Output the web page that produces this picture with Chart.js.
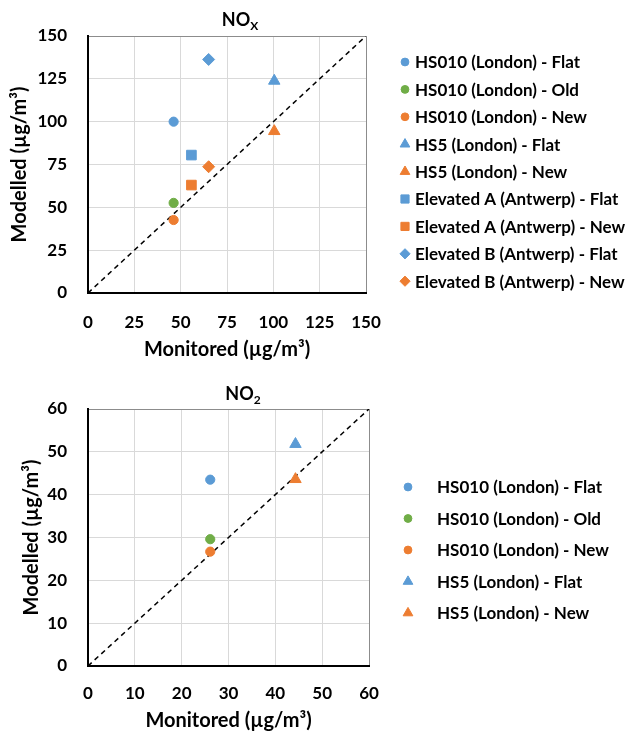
<!DOCTYPE html>
<html>
<head>
<meta charset="utf-8">
<script src="https://cdn.jsdelivr.net/npm/chart.js@4.4.1/dist/chart.umd.min.js"></script>
<style>
  html, body { margin: 0; padding: 0; background: #fff; }
  #wrap { position: relative; width: 630px; height: 733px; }
  .box { position: absolute; left: 0; width: 630px; }
</style>
</head>
<body>
<div id="wrap">
  <div class="box" style="top:0;height:365px"><canvas id="noxChart" width="630" height="365"></canvas></div>
  <div class="box" style="top:365px;height:368px"><canvas id="no2Chart" width="630" height="368"></canvas></div>
</div>
<script>
// NOx panel
const noxLabels = [
  'HS010 (London) - Flat',
  'HS010 (London) - Old',
  'HS010 (London) - New',
  'HS5 (London) - Flat',
  'HS5 (London) - New',
  'Elevated A (Antwerp) - Flat',
  'Elevated A (Antwerp) - New',
  'Elevated B (Antwerp) - Flat',
  'Elevated B (Antwerp) - New'
];
const noxMonitored = [46.2, 46.2, 46.2, 100.5, 100.5, 55.8, 55.8, 65.1, 65.1];
const noxModelled  = [100, 52.6, 42.6, 123.8, 94.4, 80.5, 63, 136.3, 73.7];
const noxRange = [0, 150];
const noxTicks = [0, 25, 50, 75, 100, 125, 150];

// NO2 panel
const no2Labels = [
  'HS010 (London) - Flat',
  'HS010 (London) - Old',
  'HS010 (London) - New',
  'HS5 (London) - Flat',
  'HS5 (London) - New'
];
const no2Monitored = [26.1, 26.1, 26.1, 44.3, 44.3];
const no2Modelled  = [43.5, 29.6, 26.7, 51.8, 43.6];
const no2Range = [0, 60];
const no2Ticks = [0, 10, 20, 30, 40, 50, 60];

// marker look per series
const blue = '#5B9BD5', orange = '#ED7D31', green = '#70AD47';
const seriesColors = [blue, green, orange, blue, orange, blue, orange, blue, orange];
const seriesShapes = ['circle', 'circle', 'circle', 'triangle', 'triangle', 'rect', 'rect', 'rectRot', 'rectRot'];
const shapeRadius = { circle: 4.6, triangle: 6.6, rect: 6.8, rectRot: 6 };

const FONT = 'Lato';

function buildDatasets(labels, xs, ys, range) {
  const sets = labels.map((lab, i) => ({
    type: 'scatter',
    label: lab,
    data: [{ x: xs[i], y: ys[i] }],
    pointStyle: seriesShapes[i],
    pointRadius: shapeRadius[seriesShapes[i]],
    pointHoverRadius: shapeRadius[seriesShapes[i]],
    backgroundColor: seriesColors[i],
    borderColor: seriesColors[i],
    borderWidth: 1
  }));
  // 1:1 line
  sets.push({
    type: 'line',
    label: '1:1',
    data: range.map(v => ({ x: v, y: v })),
    borderColor: '#000',
    borderWidth: 1.5,
    borderDash: [5, 4],
    pointRadius: 0,
    fill: false,
    hideInLegend: true
  });
  return sets;
}

// title with subscript + legend drawn at fixed spots
const panelDecor = {
  id: 'panelDecor',
  afterDraw(chart, args, opts) {
    const ctx = chart.ctx;
    ctx.save();
    // title
    ctx.fillStyle = '#000';
    ctx.textBaseline = 'middle';
    ctx.textAlign = 'left';
    ctx.font = 'bold 18px ' + FONT;
    const mainW = ctx.measureText(opts.title).width;
    ctx.font = 'bold 12px ' + FONT;
    const subW = ctx.measureText(opts.sub).width;
    const tx = opts.titleX - (mainW + subW) / 2;
    ctx.font = 'bold 18px ' + FONT;
    ctx.fillText(opts.title, tx, opts.titleY);
    ctx.font = 'bold 12px ' + FONT;
    ctx.fillText(opts.sub, tx + mainW, opts.titleY + 6);

    // legend
    ctx.font = 'bold 17px ' + FONT;
    let row = 0;
    chart.data.datasets.forEach(ds => {
      if (ds.hideInLegend) return;
      const y = opts.legendY + row * opts.legendStep;
      ctx.fillStyle = ds.backgroundColor;
      ctx.strokeStyle = ds.borderColor;
      ctx.lineWidth = 1;
      Chart.helpers.drawPoint(ctx, { pointStyle: ds.pointStyle, radius: ds.pointRadius * 0.85, rotation: 0, borderWidth: 1 }, opts.markerX, y);
      ctx.fillStyle = '#000';
      ctx.fillText(ds.label, opts.textX, y + 1);
      row++;
    });
    ctx.restore();
  }
};

function makeChart(id, datasets, range, ticks, step, cfg) {
  const tickFont = { family: FONT, size: 17, weight: 'bold' };
  const titleFont = { family: FONT, size: 20, weight: 'bold' };
  const gridColor = c => (c.tick && c.tick.value === range[1]) ? '#8C8C8C' : '#D9D9D9';
  return new Chart(document.getElementById(id).getContext('2d'), {
    data: { datasets: datasets },
    plugins: [panelDecor],
    options: {
      responsive: false,
      animation: false,
      layout: { padding: cfg.padding },
      scales: {
        x: {
          type: 'linear',
          min: range[0], max: range[1],
          afterFit: s => { s.height = cfg.xHeight; },
          afterBuildTicks: s => { s.ticks = ticks.map(v => ({ value: v })); },
          ticks: { stepSize: step, font: tickFont, color: '#000', padding: cfg.xTickPad },
          grid: { color: gridColor, lineWidth: 1, drawTicks: false },
          border: { color: '#000', width: 2 },
          title: { display: true, text: 'Monitored (µg/m³)', font: titleFont, color: '#000', padding: { top: 0, bottom: cfg.xTitlePad } }
        },
        y: {
          type: 'linear',
          min: range[0], max: range[1],
          afterFit: s => { s.width = cfg.yWidth; },
          afterBuildTicks: s => { s.ticks = ticks.map(v => ({ value: v })); },
          ticks: { stepSize: step, font: tickFont, color: '#000', padding: 21 },
          grid: { color: gridColor, lineWidth: 1, drawTicks: false },
          border: { color: '#000', width: 2 },
          title: { display: true, text: 'Modelled (µg/m³)', font: titleFont, color: '#000', padding: { top: cfg.yTitlePad, bottom: 0 } }
        }
      },
      plugins: {
        legend: { display: false },
        tooltip: { enabled: false },
        panelDecor: cfg.decor
      }
    }
  });
}

makeChart('noxChart', buildDatasets(noxLabels, noxMonitored, noxModelled, noxRange), noxRange, noxTicks, 25, {
  padding: { left: 0, top: 36, right: 264, bottom: 0 },
  xHeight: 72, yWidth: 88, xTickPad: 19, xTitlePad: 3, yTitlePad: 8,
  decor: { title: 'NO', sub: 'X', titleX: 240, titleY: 20, legendY: 62, legendStep: 27.4, markerX: 405, textX: 415 }
});

makeChart('no2Chart', buildDatasets(no2Labels, no2Monitored, no2Modelled, no2Range), no2Range, no2Ticks, 10, {
  padding: { left: 12, top: 44, right: 261, bottom: 0 },
  xHeight: 67, yWidth: 76, xTickPad: 17, xTitlePad: 0, yTitlePad: 8,
  decor: { title: 'NO', sub: '2', titleX: 243, titleY: 29, legendY: 122, legendStep: 31.5, markerX: 408, textX: 437 }
});
</script>
</body>
</html>
